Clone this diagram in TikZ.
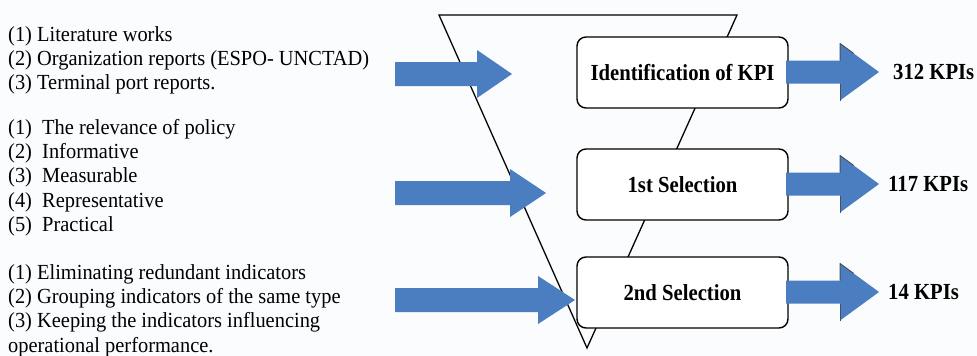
\documentclass[tikz,border=0pt]{standalone}
\usepackage{fontspec}
\setmainfont{Liberation Serif}
\newfontfamily\listfont[FakeStretch=0.95]{Liberation Serif}
\newfontfamily\boxfont[FakeStretch=0.9]{Liberation Serif}
\usetikzlibrary{calc}
\definecolor{bgc}{RGB}{251,252,253}
\definecolor{arrowblue}{RGB}{74,126,193}
\definecolor{headedge}{RGB}{70,80,95}
\newcommand\blkarrowL[5]{% name, x0, xbase, xtip, cy ; shaft half 12, head half 24
  \fill[arrowblue] (#2,#5-12) -- (#3,#5-12) -- (#3,#5-24) -- (#4,#5) -- (#3,#5+24) -- (#3,#5+12) -- (#2,#5+12) -- cycle;
  \coordinate (#1) at (#4,#5);}
\newcommand\blkarrowR[5]{% name, x0, xbase, xtip, cy ; shaft half 11.5, head half 28.5
  \fill[arrowblue] (#2,#5-11.5) -- (#3,#5-11.5) -- (#3,#5-28.5) -- (#4,#5) -- (#3,#5+28.5) -- (#3,#5+11.5) -- (#2,#5+11.5) -- cycle;
  \draw[headedge,line width=1pt,line join=round] (#3,#5-11.5) -- (#3,#5-28.5) -- ($(#3,#5-28.5)!0.35!(#4,#5)$);
  \draw[headedge,line width=1pt] (#3,#5+11.5) -- (#3,#5+28.5);
  \coordinate (#1) at (#4,#5);}
\begin{document}
\begin{tikzpicture}[x=1pt,y=-1pt,
  stagebox/.style={draw=black,line width=1.4pt,rounded corners=9pt,fill=white,minimum width=211pt,minimum height=71pt,inner sep=0pt,font=\boxfont\fontsize{23}{26}\selectfont\bfseries},
  listtext/.style={anchor=base west,inner sep=0pt,font=\listfont\fontsize{21.5}{24.4}\selectfont},
  kpitext/.style={anchor=west,inner sep=0pt,font=\boxfont\fontsize{23}{26}\selectfont\bfseries}]
\fill[bgc] (0,0) rectangle (977,356);
\useasboundingbox (0,0) rectangle (977,356);
% funnel
\coordinate (ftl) at (439,15);
\coordinate (ftr) at (737,15);
\coordinate (fbot) at (587,348);
\draw[line width=1.3pt,line join=miter] (ftl) -- (ftr) -- (fbot) -- cycle;
% stage boxes
\node[stagebox] (s1) at (682.5,72.5) {Identification of KPI};
\node[stagebox] (s2) at (682.5,184.5) {1st Selection};
\node[stagebox] (s3) at (682.5,292.5) {2nd Selection};
% left input arrows
\blkarrowL{a1}{395}{477}{512}{74}
\blkarrowL{a2}{395}{510}{546}{193}
\blkarrowL{a3}{395}{538}{575}{300}
% right output arrows
\blkarrowR{b1}{786}{840}{879}{72}
\blkarrowR{b2}{786}{840}{879}{184}
\blkarrowR{b3}{786}{840}{879}{292}
% output labels
\node[kpitext] (k1) at (893,72) {312 KPIs};
\node[kpitext] (k2) at (888,184) {117 KPIs};
\node[kpitext] (k3) at (888,292) {14 KPIs};
% left text lists
\node[listtext] (t1) at (8,41) {\begin{tabular}[t]{@{}l@{}}(1) Literature works\\(2) Organization reports (ESPO- UNCTAD)\\(3) Terminal port reports.\end{tabular}};
\node[listtext] (t2) at (8,134) {\begin{tabular}[t]{@{}l@{}}(1)\ \ The relevance of policy\\(2)\ \ Informative\\(3)\ \ Measurable\\(4)\ \ Representative\\(5)\ \ Practical\end{tabular}};
\node[listtext] (t3) at (8,279) {\begin{tabular}[t]{@{}l@{}}(1) Eliminating redundant indicators\\(2) Grouping indicators of the same type\\(3) Keeping the indicators influencing\\operational performance.\end{tabular}};
\end{tikzpicture}
\end{document}
